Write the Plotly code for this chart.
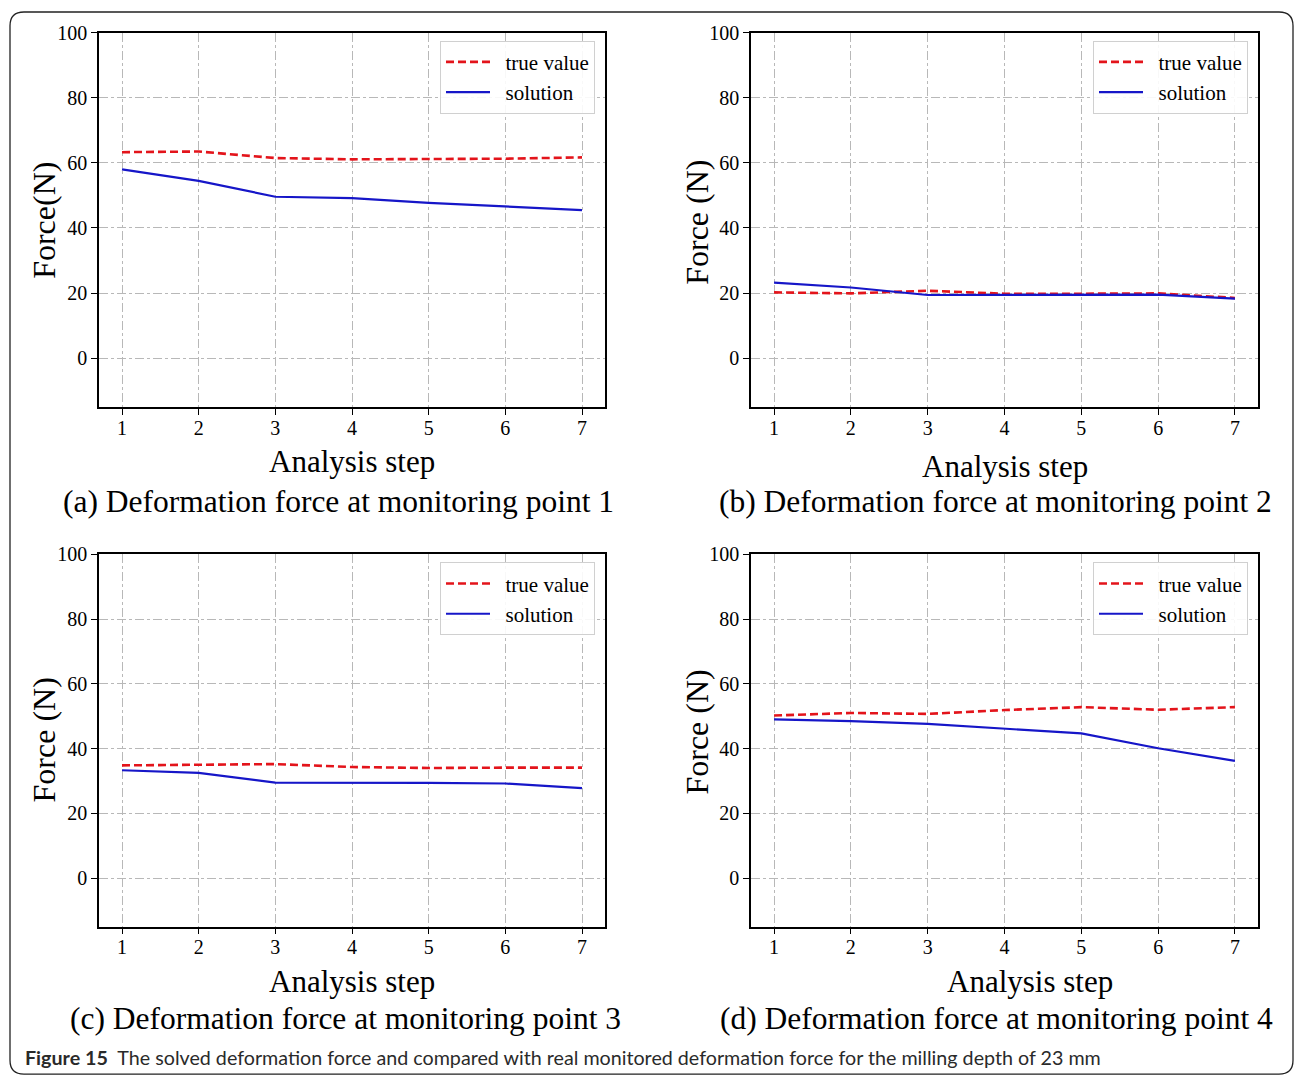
import plotly.graph_objects as go

# Analysis steps on the x axis
steps = [1, 2, 3, 4, 5, 6, 7]

# Deformation force (N) at each monitoring point
true_p1 = [63.3, 63.5, 61.5, 61.1, 61.2, 61.3, 61.7]
sol_p1 = [58.0, 54.5, 49.6, 49.2, 47.7, 46.6, 45.5]

true_p2 = [20.2, 19.9, 20.7, 19.8, 19.8, 19.9, 18.5]
sol_p2 = [23.2, 21.7, 19.4, 19.5, 19.6, 19.5, 18.3]

true_p3 = [34.8, 35.1, 35.2, 34.3, 34.0, 34.1, 34.1]
sol_p3 = [33.3, 32.5, 29.5, 29.5, 29.4, 29.2, 27.8]

true_p4 = [50.2, 51.0, 50.7, 51.9, 52.8, 52.0, 52.8]
sol_p4 = [49.0, 48.5, 47.6, 46.2, 44.7, 40.1, 36.2]

y_ticks = [0, 20, 40, 60, 80, 100]

panel_titles = [
    "(a) Deformation force at monitoring point 1",
    "(b) Deformation force at monitoring point 2",
    "(c) Deformation force at monitoring point 3",
    "(d) Deformation force at monitoring point 4",
]
y_titles = ["Force(N)", "Force (N)", "Force (N)", "Force (N)"]
x_title = "Analysis step"
legend_names = ["true value", "solution"]
caption_bold = "Figure 15"
caption_text = ("The solved deformation force and compared with real monitored "
                "deformation force for the milling depth of 23 mm")

W, H = 1295, 1077
RED = "#e3141b"
BLUE = "#1616c8"
SERIF = "Liberation Serif, Times New Roman, serif"
PAD = "\u00a0\u00a0"  # a little room between legend line and label


def px(x):
    return x / W


def py(y):
    return 1 - y / H


# Plot areas in pixels: (left, right, top, bottom)
boxes = [
    (99, 605, 22, 400),
    (751, 1258, 22, 400),
    (99, 605, 549, 925),
    (751, 1258, 549, 925),
]
series = [(true_p1, sol_p1), (true_p2, sol_p2), (true_p3, sol_p3), (true_p4, sol_p4)]

fig = go.Figure()
layout = dict(
    width=W, height=H,
    margin=dict(l=0, r=0, t=0, b=0),
    paper_bgcolor="white", plot_bgcolor="white",
    font=dict(family=SERIF, color="black"),
    showlegend=True,
)

annotations = []
for i, ((l, r, t, b), (tv, sv)) in enumerate(zip(boxes, series)):
    n = i + 1
    xa = "x" if n == 1 else f"x{n}"
    ya = "y" if n == 1 else f"y{n}"
    leg = "legend" if n == 1 else f"legend{n}"
    fig.add_trace(go.Scatter(
        x=steps, y=tv, mode="lines", name=PAD + legend_names[0],
        line=dict(color=RED, width=2.6, dash="8px,4px"),
        xaxis=xa, yaxis=ya, legend=leg))
    fig.add_trace(go.Scatter(
        x=steps, y=sv, mode="lines", name=PAD + legend_names[1],
        line=dict(color=BLUE, width=2.2),
        xaxis=xa, yaxis=ya, legend=leg))

    axis_common = dict(
        showline=True, linecolor="black", linewidth=1.6, mirror=True,
        ticks="outside", ticklen=6, tickwidth=1.3, tickcolor="black",
        showgrid=True, gridcolor="#b8b8b8", gridwidth=1, griddash="dashdot",
        zeroline=False, tickfont=dict(family=SERIF, size=20, color="black"),
    )
    layout["xaxis" if n == 1 else f"xaxis{n}"] = dict(
        axis_common, domain=[px(l), px(r)], range=[0.7, 7.3],
        tickvals=steps, anchor=ya, ticklabelstandoff=-4)
    layout["yaxis" if n == 1 else f"yaxis{n}"] = dict(
        axis_common, domain=[py(b), py(t)], range=[-15, 100],
        tickvals=y_ticks, anchor=xa)
    layout[leg] = dict(
        x=px(r - 10), y=py(t + 8), xanchor="right", yanchor="top",
        bgcolor="rgba(255,255,255,0.9)", bordercolor="#d0d0d0", borderwidth=1,
        font=dict(family=SERIF, size=21, color="black"),
        itemwidth=44, tracegroupgap=0,
    )

# Axis and panel titles
x_title_pos = [(352, 455), (1005, 460), (352, 981), (1030, 981)]
sub_pos = [(338, 496), (995, 496), (345, 1018), (996, 1018)]
y_title_pos = [(44, 212), (697, 214), (44, 737), (697, 729)]
for i in range(4):
    xx, yy = x_title_pos[i]
    annotations.append(dict(text=x_title, x=px(xx), y=py(yy), xref="paper", yref="paper",
                            showarrow=False, xanchor="center", yanchor="middle",
                            font=dict(family=SERIF, size=31, color="black")))
    xx, yy = sub_pos[i]
    annotations.append(dict(text=panel_titles[i], x=px(xx), y=py(yy), xref="paper", yref="paper",
                            showarrow=False, xanchor="center", yanchor="middle",
                            font=dict(family=SERIF, size=31.5, color="black")))
    xx, yy = y_title_pos[i]
    annotations.append(dict(text=y_titles[i], x=px(xx), y=py(yy), xref="paper", yref="paper",
                            showarrow=False, xanchor="center", yanchor="middle", textangle=-90,
                            font=dict(family=SERIF, size=32, color="black")))

annotations.append(dict(
    text=f"<b>{caption_bold}</b>  {caption_text}",
    x=px(23), y=py(1057), xref="paper", yref="paper", showarrow=False,
    xanchor="left", yanchor="middle",
    font=dict(family="Lato, Noto Sans, sans-serif", size=19.7, color="#2a2a2a")))
layout["annotations"] = annotations

# Rounded frame around the whole figure
x0, x1, y0, y1, rad = 10, 1293, 1, 1074, 14
path = (f"M {px(x0 + rad)} {py(y0)} L {px(x1 - rad)} {py(y0)} "
        f"Q {px(x1)} {py(y0)} {px(x1)} {py(y0 + rad)} "
        f"L {px(x1)} {py(y1 - rad)} Q {px(x1)} {py(y1)} {px(x1 - rad)} {py(y1)} "
        f"L {px(x0 + rad)} {py(y1)} Q {px(x0)} {py(y1)} {px(x0)} {py(y1 - rad)} "
        f"L {px(x0)} {py(y0 + rad)} Q {px(x0)} {py(y0)} {px(x0 + rad)} {py(y0)} Z")
layout["shapes"] = [dict(type="path", path=path, xref="paper", yref="paper",
                         line=dict(color="#222222", width=1.3), layer="below")]

fig.update_layout(**layout)
fig.write_html("out.html")
